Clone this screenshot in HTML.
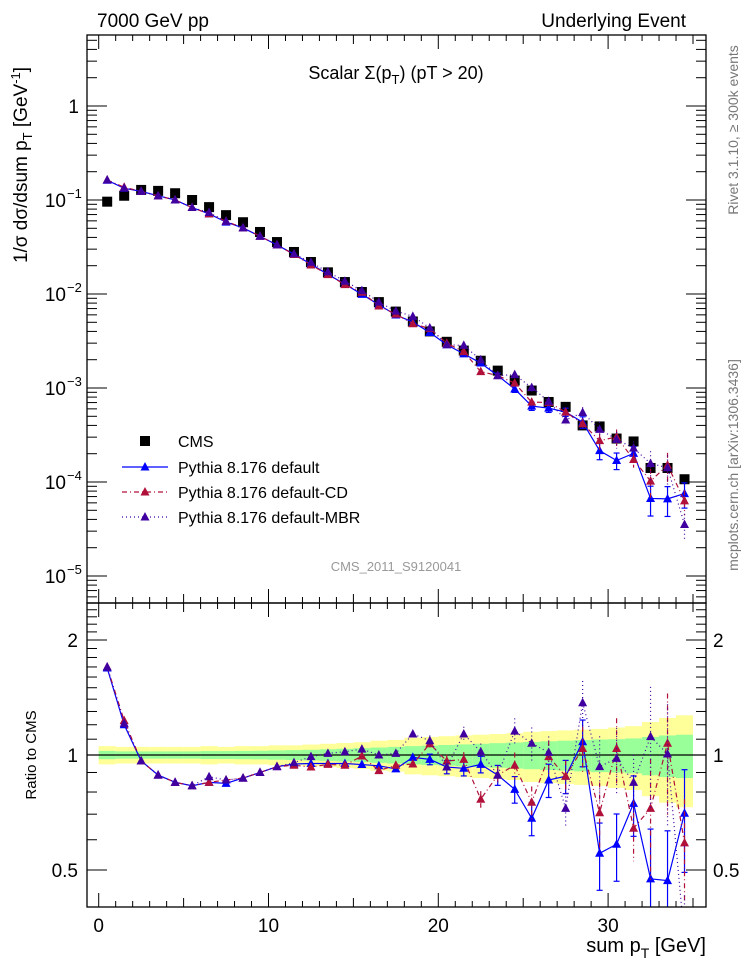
<!DOCTYPE html>
<html><head><meta charset="utf-8">
<style>
html,body{margin:0;padding:0;background:#fff;}
svg{display:block;font-family:"Liberation Sans",sans-serif;}
</style></head>
<body>
<svg id="chart" width="746" height="972" viewBox="0 0 746 972" xmlns="http://www.w3.org/2000/svg">
<defs>
<clipPath id="clipTop"><rect x="87" y="35" width="619" height="568"/></clipPath>
<clipPath id="clipBot"><rect x="87" y="603" width="619" height="304"/></clipPath>
</defs>
<text x="97" y="27" font-size="19">7000 GeV pp</text>
<text x="686" y="27" font-size="19" text-anchor="end">Underlying Event</text>
<text x="396" y="79" font-size="18" text-anchor="middle">Scalar Σ(p<tspan font-size="13" dy="5">T</tspan><tspan dy="-5">) (pT &gt; 20)</tspan></text>
<text x="396" y="571" font-size="13" fill="#999" text-anchor="middle">CMS_2011_S9120041</text>
<text transform="translate(738,130) rotate(-90)" font-size="14" fill="#777" text-anchor="middle">Rivet 3.1.10, ≥ 300k events</text>
<text transform="translate(738,465) rotate(-90)" font-size="14" fill="#777" text-anchor="middle">mcplots.cern.ch [arXiv:1306.3436]</text>
<text transform="translate(27,165) rotate(-90)" font-size="19" text-anchor="middle">1/σ dσ/dsum p<tspan font-size="13" dy="5">T</tspan><tspan dy="-5"> [GeV</tspan><tspan font-size="13" dy="-7">-1</tspan><tspan dy="7">]</tspan></text>
<text transform="translate(36,755) rotate(-90)" font-size="15" text-anchor="middle">Ratio to CMS</text>
<text x="706" y="952" font-size="20" text-anchor="end">sum p<tspan font-size="14" dy="6">T</tspan><tspan dy="-6"> [GeV]</tspan></text>
<g id="gTop" clip-path="url(#clipTop)"></g>
<g id="gBot" clip-path="url(#clipBot)"></g>
<g id="gAxes"></g>
<g id="gLegend"></g>
</svg>
<script>
// ---- data ----
const bins = [0.5,1.5,2.5,3.5,4.5,5.5,6.5,7.5,8.5,9.5,10.5,11.5,12.5,13.5,14.5,15.5,16.5,17.5,18.5,19.5,20.5,21.5,22.5,23.5,24.5,25.5,26.5,27.5,28.5,29.5,30.5,31.5,32.5,33.5,34.5];
const cmsValues = [0.096,0.111,0.128,0.125,0.118,0.10,0.084,0.069,0.058,0.0457,0.0357,0.0280,0.0219,0.0170,0.0134,0.0105,0.0082,0.0065,0.0051,0.0040,0.0031,0.0025,0.00195,0.00153,0.00120,0.00094,0.00071,0.00063,0.00040,0.00039,0.00029,0.00027,0.000141,0.000141,0.000107];
const ratioDefault = [1.69,1.20,0.965,0.886,0.848,0.831,0.848,0.843,0.87,0.90,0.932,0.947,0.95,0.95,0.95,0.944,0.937,0.92,0.986,0.974,0.93,0.923,0.945,0.886,0.813,0.683,0.86,0.88,1.083,0.553,0.584,0.747,0.474,0.469,0.704];
const ratioCD = [1.70,1.23,0.965,0.886,0.848,0.831,0.848,0.86,0.87,0.90,0.932,0.94,0.93,0.945,0.94,0.994,0.91,0.94,0.947,1.07,0.964,0.974,0.766,0.886,0.94,0.752,0.99,0.88,1.04,0.706,1.04,0.643,0.725,1.073,0.589];
const ratioMBR = [1.70,1.21,0.965,0.886,0.848,0.831,0.877,0.86,0.87,0.90,0.932,0.955,0.99,1.01,1.02,1.036,1.0,1.01,1.135,1.09,0.93,1.135,1.02,0.886,1.155,1.073,1.016,0.725,1.37,0.932,0.98,0.848,1.117,1.006,0.33];
const relErr = [0.01,0.01,0.01,0.01,0.01,0.01,0.01,0.012,0.012,0.014,0.015,0.016,0.018,0.02,0.022,0.024,0.026,0.028,0.03,0.032,0.04,0.045,0.05,0.06,0.08,0.1,0.1,0.1,0.14,0.2,0.2,0.18,0.35,0.35,0.3];
const bandOuter = [0.055,0.05,0.05,0.05,0.05,0.05,0.055,0.05,0.055,0.055,0.06,0.06,0.065,0.07,0.075,0.08,0.09,0.095,0.11,0.115,0.12,0.125,0.13,0.135,0.14,0.15,0.155,0.16,0.165,0.17,0.18,0.19,0.22,0.25,0.27];
const bandInner = [0.025,0.022,0.022,0.022,0.022,0.022,0.024,0.024,0.025,0.026,0.028,0.03,0.032,0.035,0.038,0.042,0.046,0.05,0.055,0.058,0.062,0.066,0.07,0.074,0.078,0.082,0.086,0.09,0.094,0.098,0.10,0.105,0.115,0.125,0.13];
const xTickMajor = [0,10,20,30];
const yTopDecades = [1,0.1,0.01,0.001,0.0001,0.00001];
const yTopDecadeLabels = ["1","10","10","10","10","10"];
const yTopDecadeExps = ["","−1","−2","−3","−4","−5"];
const ratioTickLabels = ["0.5","1","2"];
const ratioTickValues = [0.5,1,2];

// ---- scales ----
const xS = v => 98.7 + 16.98*v;
const yT = v => 106 - 94*Math.log10(v);
const yR = r => 755 - 115*Math.log2(r);
const NS = "http://www.w3.org/2000/svg";
function mk(tag, attrs, parent){const e=document.createElementNS(NS,tag);for(const k in attrs)e.setAttribute(k,attrs[k]);parent.appendChild(e);return e;}
const gTop=document.getElementById('gTop'), gBot=document.getElementById('gBot'), gAxes=document.getElementById('gAxes'), gLeg=document.getElementById('gLegend');

const series = [
 {name:'default', r:ratioDefault, color:'#0000ff', dash:''},
 {name:'default-cd', r:ratioCD, color:'#b0103a', dash:'5,3,1,3'},
 {name:'default-mbr', r:ratioMBR, color:'#4000a0', dash:'1,3'}
];
function tri(g,x,y,c){return mk('polygon',{points:`${x},${y-5} ${x-4.5},${y+3.5} ${x+4.5},${y+3.5}`,fill:c},g);}

// ---- bands ----
bins.forEach((b,i)=>{
  const x0=xS(b-0.5), x1=xS(b+0.5);
  const ro=mk('rect',{x:x0,y:yR(1+bandOuter[i]),width:x1-x0,height:yR(1-bandOuter[i])-yR(1+bandOuter[i]),fill:'#ffff99'},gBot);
  
  
});
bins.forEach((b,i)=>{
  const x0=xS(b-0.5), x1=xS(b+0.5);
  const ri=mk('rect',{x:x0,y:yR(1+bandInner[i]),width:x1-x0,height:yR(1-bandInner[i])-yR(1+bandInner[i]),fill:'#99ff99'},gBot);
  
  
});
const one=mk('line',{x1:87,x2:706,y1:yR(1),y2:yR(1),stroke:'#000','stroke-width':1.2},gBot);



// ---- CMS squares ----
bins.forEach((b,i)=>{
  const s=mk('rect',{x:xS(b)-5,y:yT(cmsValues[i])-5,width:10,height:10,fill:'#000'},gTop);
  
  
});

// ---- MC series ----
series.forEach(sr=>{
  const topPts=[], botPts=[];
  bins.forEach((b,i)=>{
    const v=cmsValues[i]*sr.r[i], x=xS(b);
    topPts.push(`${x},${yT(v)}`); botPts.push(`${x},${yR(sr.r[i])}`);
  });
  const lt=mk('polyline',{points:topPts.join(' '),fill:'none',stroke:sr.color,'stroke-width':1.2,'stroke-dasharray':sr.dash},gTop);
  
  
  const lb=mk('polyline',{points:botPts.join(' '),fill:'none',stroke:sr.color,'stroke-width':1.2,'stroke-dasharray':sr.dash},gBot);
  
  
  bins.forEach((b,i)=>{
    const x=xS(b), v=cmsValues[i]*sr.r[i], e=relErr[i];
    if(e>0.03){
      mk('line',{x1:x,x2:x,y1:yT(v*(1+e)),y2:yT(Math.max(v*(1-e),1e-7)),stroke:sr.color,'stroke-width':1.2,'stroke-dasharray':sr.dash},gTop);
      mk('line',{x1:x,x2:x,y1:yR(sr.r[i]*(1+e)),y2:yR(Math.max(sr.r[i]*(1-e),0.01)),stroke:sr.color,'stroke-width':1.2,'stroke-dasharray':sr.dash},gBot);
      [1+e,1-e].forEach(f=>{ if(sr.name==='default'){
        mk('line',{x1:x-3,x2:x+3,y1:yR(sr.r[i]*f),y2:yR(sr.r[i]*f),stroke:sr.color,'stroke-width':1.2},gBot);
        mk('line',{x1:x-3,x2:x+3,y1:yT(v*f),y2:yT(v*f),stroke:sr.color,'stroke-width':1.2},gTop);}});
    }
    const t1=tri(gTop,x,yT(v),sr.color);
    
    
    const t2=tri(gBot,x,yR(sr.r[i]),sr.color);
    
    
  });
});

// ---- axes frames ----
const f1=mk('rect',{x:87,y:35,width:619,height:568,fill:'none',stroke:'#000','stroke-width':1.3},gAxes);


const f2=mk('rect',{x:87,y:603,width:619,height:304,fill:'none',stroke:'#000','stroke-width':1.3},gAxes);



// x ticks
for(let v=0; v<=35; v++){
  const x=xS(v), major=(v%10===0), minorLen=(v%5===0)?9:6, len=major?14:minorLen;
  [[35,1],[603,-1],[603,1],[907,-1]].forEach(([y,d])=>mk('line',{x1:x,x2:x,y1:y,y2:y+d*len,stroke:'#000','stroke-width':1},gAxes));
}
xTickMajor.forEach(v=>{
  const t=mk('text',{x:xS(v),y:932,'font-size':19,'text-anchor':'middle'},gAxes);
  t.textContent=String(v);
  
  
});
// top log ticks
for(let d=1; d>=1e-5; d/=10){
  for(let m=1;m<=9;m++){
    const y=yT(d*m); if(y<35) continue;
    const len=m===1?20:10;
    mk('line',{x1:87,x2:87+len,y1:y,y2:y,stroke:'#000','stroke-width':1},gAxes);
    mk('line',{x1:706,x2:706-len,y1:y,y2:y,stroke:'#000','stroke-width':1},gAxes);
  }
}
for(let m=2;m<=9;m++){const y=yT(1e-6*m); if(y<603){mk('line',{x1:87,x2:97,y1:y,y2:y,stroke:'#000'},gAxes);mk('line',{x1:706,x2:696,y1:y,y2:y,stroke:'#000'},gAxes);}}
yTopDecades.forEach((v,i)=>{
  const t=mk('text',{x:yTopDecadeExps[i]?66:79,y:yT(v)+7,'font-size':19,'text-anchor':'end'},gAxes);
  t.textContent=yTopDecadeLabels[i];
  
  
  if(yTopDecadeExps[i]){
    const s=mk('text',{x:67,y:yT(v)-2,'font-size':13},gAxes);
    s.textContent=yTopDecadeExps[i];
  }
});
// ratio ticks
for(let k=4;k<=24;k++){
  const r=k/10, y=yR(r); if(y<603||y>907) continue;
  const major=(k===5||k===10||k===20), len=major?20:10;
  mk('line',{x1:87,x2:87+len,y1:y,y2:y,stroke:'#000'},gAxes);
  mk('line',{x1:706,x2:706-len,y1:y,y2:y,stroke:'#000'},gAxes);
}
ratioTickValues.forEach((v,i)=>{
  const tl=mk('text',{x:78,y:yR(v)+7,'font-size':19,'text-anchor':'end'},gAxes);
  tl.textContent=ratioTickLabels[i];
  
  
  const tr=mk('text',{x:713,y:yR(v)+7,'font-size':19},gAxes);
  tr.textContent=ratioTickLabels[i];
  
  
});

// ---- legend ----
const cmsL=mk('rect',{x:140,y:436,width:10,height:10,fill:'#000'},gLeg);


const cmsT=mk('text',{x:178,y:447,'font-size':16},gLeg);
cmsT.textContent='CMS';


const legLabels=['Pythia 8.176 default','Pythia 8.176 default-CD','Pythia 8.176 default-MBR'];
series.forEach((sr,i)=>{
  const y=467+25*i;
  mk('line',{x1:122,x2:168,y1:y,y2:y,stroke:sr.color,'stroke-width':1.2,'stroke-dasharray':sr.dash},gLeg);
  tri(gLeg,145,y,sr.color);
  const t=mk('text',{x:178,y:y+6,'font-size':16},gLeg);
  t.textContent=legLabels[i];
  
  
});
</script>
</body></html>
